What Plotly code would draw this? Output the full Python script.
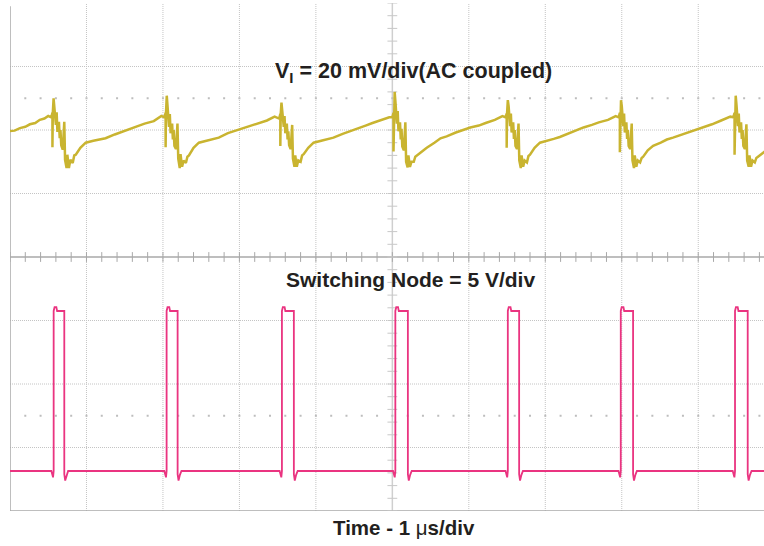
import numpy as np
import plotly.graph_objects as go

# ---------------- data ----------------
# time in microseconds from the left edge of the screen (1 us/div),
# vertical position in screen divisions (centre line = 0)

vi_t_us = [
    -0.03, 0.00, 0.06, 0.13, 0.20, 0.26, 0.33, 0.39, 0.45, 0.50,
    # cycle 1
    0.54, 0.555, 0.555, 0.56, 0.57, 0.58, 0.60, 0.61, 0.62, 0.64, 0.65, 0.66, 0.67, 0.69, 0.71, 0.72, 0.74,
    0.75, 0.77, 0.79, 0.82, 0.84, 0.86, 0.92, 0.99, 1.09, 1.17, 1.25, 1.37, 1.56, 1.67, 1.76, 1.88, 1.98,
    # cycle 2
    2.02, 2.035, 2.035, 2.04, 2.05, 2.06, 2.08, 2.09, 2.10, 2.12, 2.13, 2.14, 2.15, 2.17, 2.19, 2.20, 2.22,
    2.23, 2.25, 2.27, 2.30, 2.32, 2.34, 2.40, 2.47, 2.57, 2.65, 2.73, 2.85, 3.04, 3.15, 3.24, 3.36, 3.46,
    # cycle 3
    3.52, 3.535, 3.535, 3.54, 3.55, 3.56, 3.58, 3.59, 3.60, 3.62, 3.63, 3.64, 3.65, 3.67, 3.69, 3.70, 3.72,
    3.73, 3.75, 3.77, 3.80, 3.82, 3.84, 3.90, 3.97, 4.07, 4.15, 4.23, 4.35, 4.54, 4.65, 4.74, 4.86, 4.96,
    # cycle 4
    5.00, 5.015, 5.015, 5.02, 5.03, 5.04, 5.06, 5.07, 5.08, 5.10, 5.11, 5.12, 5.13, 5.15, 5.17, 5.18, 5.20,
    5.21, 5.23, 5.25, 5.28, 5.30, 5.32, 5.38, 5.45, 5.55, 5.63, 5.71, 5.83, 6.02, 6.13, 6.22, 6.34, 6.44,
    # cycle 5
    6.48, 6.495, 6.495, 6.50, 6.51, 6.52, 6.54, 6.55, 6.56, 6.58, 6.59, 6.60, 6.61, 6.63, 6.65, 6.66, 6.68,
    6.69, 6.71, 6.73, 6.76, 6.78, 6.80, 6.86, 6.93, 7.03, 7.11, 7.19, 7.31, 7.50, 7.61, 7.70, 7.82, 7.92,
    # cycle 6
    7.96, 7.975, 7.975, 7.98, 7.99, 8.00, 8.02, 8.03, 8.04, 8.06, 8.07, 8.08, 8.09, 8.11, 8.13, 8.14, 8.16,
    8.17, 8.19, 8.21, 8.24, 8.26, 8.28, 8.34, 8.41, 8.51, 8.59, 8.67, 8.79, 8.98, 9.09, 9.18, 9.30, 9.42,
    # cycle 7
    9.46, 9.475, 9.475, 9.48, 9.49, 9.50, 9.52, 9.53, 9.54, 9.56, 9.57, 9.58, 9.59, 9.61, 9.63, 9.64, 9.66,
    9.67, 9.69, 9.71, 9.74, 9.76, 9.78, 9.84, 9.87,
]
vi_div = [
    1.98, 1.98, 1.99, 2.03, 2.05, 2.09, 2.11, 2.16, 2.18, 2.22,
    2.20, 2.27, 1.73, 2.27, 2.50, 2.39, 2.08, 2.28, 1.97, 2.13, 1.87, 2.00, 1.76, 1.69, 2.13, 1.53, 1.40,
    1.61, 1.40, 1.53, 1.48, 1.60, 1.61, 1.72, 1.80, 1.83, 1.85, 1.87, 1.93, 2.02, 2.06, 2.10, 2.14, 2.22,
    2.20, 2.27, 1.73, 2.27, 2.54, 2.40, 2.05, 2.25, 1.95, 2.10, 1.85, 2.00, 1.75, 1.70, 2.10, 1.55, 1.40,
    1.62, 1.42, 1.52, 1.48, 1.58, 1.60, 1.72, 1.80, 1.83, 1.85, 1.88, 1.95, 2.02, 2.07, 2.10, 2.15, 2.21,
    2.18, 2.25, 1.75, 2.25, 2.43, 2.33, 2.05, 2.22, 1.95, 2.10, 1.85, 1.98, 1.76, 1.70, 2.08, 1.55, 1.42,
    1.60, 1.42, 1.52, 1.50, 1.60, 1.62, 1.72, 1.80, 1.83, 1.86, 1.88, 1.94, 2.03, 2.07, 2.11, 2.16, 2.20,
    2.20, 2.27, 1.66, 2.27, 2.60, 2.45, 2.10, 2.30, 1.98, 2.12, 1.85, 2.02, 1.74, 1.68, 2.12, 1.50, 1.41,
    1.60, 1.42, 1.50, 1.50, 1.58, 1.60, 1.66, 1.72, 1.80, 1.87, 1.90, 1.96, 2.04, 2.07, 2.11, 2.16, 2.22,
    2.20, 2.26, 1.72, 2.26, 2.47, 2.38, 2.06, 2.26, 1.96, 2.12, 1.86, 2.00, 1.75, 1.70, 2.10, 1.52, 1.40,
    1.60, 1.42, 1.52, 1.49, 1.59, 1.61, 1.72, 1.80, 1.84, 1.86, 1.89, 1.95, 2.04, 2.08, 2.12, 2.16, 2.22,
    2.20, 2.27, 1.65, 2.27, 2.47, 2.38, 2.06, 2.26, 1.96, 2.12, 1.86, 2.00, 1.75, 1.70, 2.10, 1.52, 1.40,
    1.60, 1.42, 1.52, 1.49, 1.56, 1.58, 1.68, 1.75, 1.80, 1.85, 1.88, 1.93, 2.00, 2.05, 2.09, 2.15, 2.21,
    2.20, 2.27, 1.61, 2.27, 2.54, 2.40, 2.06, 2.26, 1.96, 2.12, 1.86, 2.00, 1.75, 1.70, 2.09, 1.52, 1.42,
    1.60, 1.42, 1.52, 1.49, 1.56, 1.58, 1.64, 1.66,
]

# switching node pulses: edge times (us) and levels (div)
sw_rise_us = [0.571, 2.048, 3.556, 5.039, 6.510, 7.987, 9.481]
sw_fall_us = [0.710, 2.192, 3.712, 5.203, 6.658, 8.148, 9.647]
sw_low_div = -3.37
sw_high_div = -0.85
sw_peak_div = -0.79
sw_dip_div = -3.47
sw_under_div = -3.52

# ---------------- build switching-node polyline from the edges ----------------
sw_t, sw_v = [-0.03], [sw_low_div]
for r, f in zip(sw_rise_us, sw_fall_us):
    sw_t += [r - 0.03, r - 0.008, r, r, r + 0.012, r + 0.035, r + 0.045, f, f, f + 0.012, f + 0.03, f + 0.05]
    sw_v += [sw_low_div, sw_dip_div, sw_low_div, sw_high_div, sw_peak_div, sw_peak_div, sw_high_div,
             sw_high_div, sw_low_div - 0.05, sw_under_div, sw_low_div - 0.06, sw_low_div]
sw_t.append(9.88)
sw_v.append(sw_low_div)

X_MAX = 9.86
GRID = "#c4c4c4"
AXIS = "#a8a8a8"
TXT = "#231f20"
FONT = "Liberation Sans, Arial, sans-serif"

fig = go.Figure()

# minor tick marks on centre lines and dotted marker rows
minor_x = np.round(np.arange(0, X_MAX, 0.2), 3)
minor_y = np.round(np.arange(-4, 4.01, 0.2), 3)
fig.add_trace(go.Scatter(x=minor_x, y=[0] * len(minor_x), mode="markers",
                         marker=dict(symbol="line-ns-open", size=7, color=AXIS,
                                     line=dict(color=AXIS, width=1)),
                         hoverinfo="skip", showlegend=False))
fig.add_trace(go.Scatter(x=[5] * len(minor_y), y=minor_y, mode="markers",
                         marker=dict(symbol="line-ew-open", size=7, color="#c8c8c8",
                                     line=dict(color="#c8c8c8", width=1)),
                         hoverinfo="skip", showlegend=False))
for yy in (2.5, -2.5):
    fig.add_trace(go.Scatter(x=minor_x, y=[yy] * len(minor_x), mode="markers",
                             marker=dict(symbol="square", size=2, color="#bdbdbd", line=dict(width=0)),
                             hoverinfo="skip", showlegend=False))

# traces
fig.add_trace(go.Scatter(x=vi_t_us, y=vi_div, mode="lines",
                         line=dict(color="#c9b430", width=2.5), hoverinfo="skip", showlegend=False))
fig.add_trace(go.Scatter(x=sw_t, y=sw_v, mode="lines",
                         line=dict(color="#ea3480", width=1.8), hoverinfo="skip", showlegend=False))

shapes = []
for k in range(1, 10):
    if k == 5:
        continue
    shapes.append(dict(type="line", xref="x", yref="y", x0=k, x1=k, y0=-4, y1=4,
                       line=dict(color=GRID, width=1, dash="1px,1px"), layer="below"))
for k in (-3, -2, -1, 1, 2, 3):
    shapes.append(dict(type="line", xref="x", yref="y", x0=0, x1=X_MAX, y0=k, y1=k,
                       line=dict(color=GRID, width=1, dash="1px,1px"), layer="below"))
# centre lines
shapes.append(dict(type="line", xref="x", yref="y", x0=0, x1=X_MAX, y0=0, y1=0,
                   line=dict(color=AXIS, width=1.5), layer="below"))
shapes.append(dict(type="line", xref="x", yref="y", x0=5, x1=5, y0=-4, y1=4,
                   line=dict(color="#cfcfcf", width=1.5), layer="below"))
# left & bottom border
shapes.append(dict(type="line", xref="x", yref="y", x0=0, x1=0, y0=-4, y1=3.95,
                   line=dict(color=AXIS, width=1.5), layer="below"))
shapes.append(dict(type="line", xref="x", yref="y", x0=0, x1=X_MAX, y0=-4, y1=-4,
                   line=dict(color=AXIS, width=1.5), layer="below"))

annotations = [
    dict(xref="x", yref="y", x=5.27, y=2.90, text="V<sub>I</sub> = 20 mV/div(AC coupled)",
         showarrow=False, font=dict(family=FONT, size=21.5, color=TXT, weight="bold")),
    dict(xref="x", yref="y", x=5.24, y=-0.36, text="Switching Node = 5 V/div",
         showarrow=False, font=dict(family=FONT, size=21, color=TXT, weight="bold")),
    dict(xref="paper", yref="paper", x=0.5225, y=-0.0315, yanchor="middle",
         text="Time - 1 <span style='font-weight:normal'>μ</span>s/div",
         showarrow=False, font=dict(family=FONT, size=20.5, color=TXT, weight="bold")),
]

fig.update_layout(
    width=764, height=546,
    margin=dict(l=10, r=0, t=3, b=35),
    paper_bgcolor="white", plot_bgcolor="white",
    xaxis=dict(range=[0, X_MAX], showgrid=False, zeroline=False, showticklabels=False,
               ticks="", showline=False, fixedrange=True),
    yaxis=dict(range=[-4, 4], showgrid=False, zeroline=False, showticklabels=False,
               ticks="", showline=False, fixedrange=True),
    shapes=shapes, annotations=annotations, showlegend=False,
)

fig.write_html("out.html", config={"displayModeBar": False},
               post_script="document.body.style.margin='0';")
